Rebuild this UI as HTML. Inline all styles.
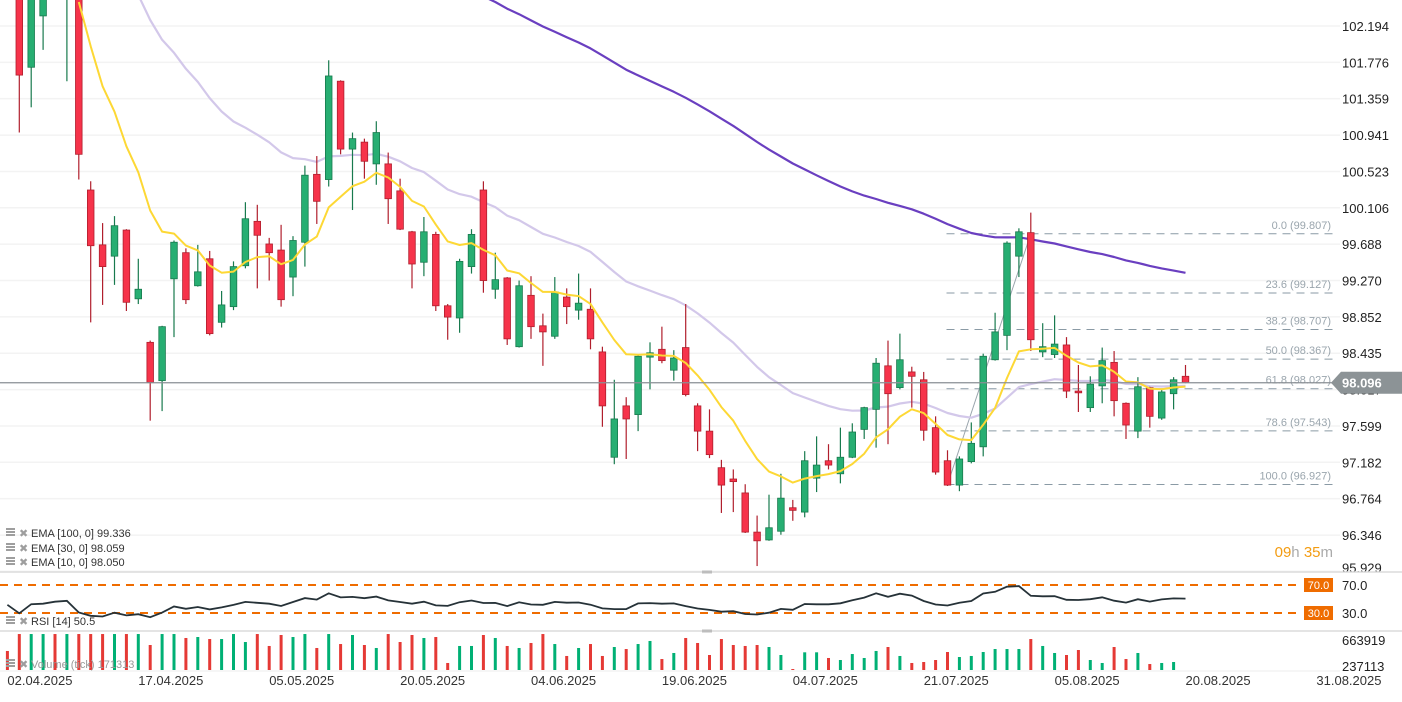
<!DOCTYPE html>
<html><head><meta charset="utf-8"><style>
body{margin:0;width:1402px;height:697px;overflow:hidden;background:#fff;font-family:"Liberation Sans",sans-serif}
svg text{font-family:"Liberation Sans","DejaVu Sans",sans-serif}
</style></head><body>
<svg id="chart" width="1402" height="697" viewBox="0 0 1402 697" xmlns="http://www.w3.org/2000/svg">
<defs><clipPath id="mainClip"><rect x="0" y="0" width="1340" height="571"/></clipPath>
<clipPath id="volClip"><rect x="0" y="633" width="1340" height="40"/></clipPath></defs>
</svg>
<script>
const opens=[103.30,102.61,101.72,102.31,103.18,102.55,102.55,100.31,99.68,99.55,
99.85,99.06,98.56,98.12,99.29,99.59,99.21,99.52,98.79,98.97,
99.44,99.95,99.69,99.62,99.31,99.71,100.49,100.43,101.56,100.78,
100.86,100.61,100.61,100.30,99.83,99.48,99.80,98.98,98.84,99.43,
100.31,99.17,99.30,98.51,99.10,98.75,98.63,99.08,98.93,98.94,
98.45,97.24,97.83,97.73,98.39,98.48,98.24,98.50,97.83,97.54,
97.12,96.99,96.83,96.38,96.29,96.39,96.66,96.61,97.00,97.20,
97.05,97.24,97.56,97.79,98.29,98.04,98.22,98.13,97.58,97.20,
96.92,97.19,97.36,98.36,98.64,99.55,99.82,98.45,98.42,98.53,
98.00,97.81,98.06,98.33,97.86,97.54,98.04,97.69,97.97,98.17];
const highs=[103.40,102.72,102.66,102.66,103.30,103.07,102.66,100.41,99.93,100.01,
99.86,99.52,98.58,98.75,99.73,99.64,99.68,99.61,99.15,99.49,
100.17,100.14,99.76,99.91,99.78,100.59,100.70,101.80,101.57,100.97,
100.90,101.10,100.74,100.44,99.84,100.00,99.83,99.00,99.52,99.86,
100.41,99.59,99.31,99.27,99.32,98.89,99.31,99.18,99.35,99.18,
98.51,98.13,97.93,98.41,98.56,98.74,98.47,99.00,97.86,97.79,
97.21,97.10,96.93,96.57,96.81,97.05,96.75,97.31,97.48,97.39,
97.58,97.63,97.82,98.38,98.58,98.66,98.28,98.22,97.71,97.32,
97.25,97.64,98.43,98.90,99.72,99.87,100.05,98.78,98.87,98.62,
98.30,98.17,98.50,98.46,97.87,98.16,98.05,98.02,98.16,98.30];
const lows=[102.80,100.97,101.26,101.92,102.72,101.56,100.43,98.79,98.99,99.22,
98.92,99.00,97.66,97.77,98.62,99.00,99.20,98.64,98.73,98.93,
99.41,99.18,99.27,98.97,99.09,99.43,99.92,100.35,100.72,100.08,
100.44,100.37,99.92,99.85,99.18,99.32,98.92,98.59,98.67,99.35,
99.13,99.06,98.53,98.50,98.60,98.29,98.60,98.77,98.82,98.48,
97.59,97.16,97.22,97.54,98.02,98.32,98.12,97.94,97.31,97.23,
96.60,96.61,96.37,95.99,96.28,96.35,96.51,96.55,96.84,97.10,
96.94,97.23,97.45,97.35,97.39,98.02,97.81,97.43,97.04,96.91,
96.85,97.17,97.25,98.35,98.47,99.31,98.46,98.39,98.38,97.92,
97.76,97.76,97.86,97.71,97.45,97.46,97.58,97.67,97.79,98.09];
const closes=[102.90,101.63,102.55,102.61,102.84,102.95,100.72,99.67,99.43,99.90,
99.02,99.17,98.10,98.74,99.71,99.05,99.37,98.66,98.99,99.43,
99.98,99.79,99.59,99.05,99.73,100.48,100.18,101.62,100.78,100.90,
100.64,100.97,100.21,99.86,99.46,99.83,98.98,98.85,99.49,99.80,
99.27,99.28,98.60,99.21,98.74,98.68,99.14,98.97,99.01,98.60,
97.83,97.68,97.68,98.40,98.44,98.35,98.38,97.96,97.54,97.27,
96.92,96.96,96.38,96.28,96.43,96.77,96.63,97.20,97.15,97.15,
97.24,97.53,97.81,98.32,97.97,98.36,98.17,97.55,97.07,96.92,
97.22,97.40,98.40,98.68,99.70,99.83,98.59,98.51,98.54,98.00,
97.98,98.08,98.35,97.89,97.61,98.05,97.71,97.99,98.13,98.10];
const volumes=[500,778,778,778,778,778,778,778,778,778,
778,778,598,778,778,713,729,696,696,778,
647,778,582,762,729,778,549,778,614,762,
598,549,778,647,762,713,729,303,582,582,
762,713,582,549,631,778,614,418,549,614,
418,565,532,614,664,368,467,713,631,434,
696,598,582,598,565,434,204,478,478,385,
352,450,385,500,565,418,303,319,352,483,
401,418,483,532,532,532,696,582,467,434,
516,352,303,565,368,467,286,303,319,171];
const priceTicks=["102.194","101.776","101.359","100.941","100.523","100.106","99.688","99.270","98.852","98.435","98.017","97.599","97.182","96.764","96.346","95.929"];
const fibPct=["0.0","23.6","38.2","50.0","61.8","78.6","100.0"];
const fibPrices=[99.807,99.127,98.707,98.367,98.027,97.543,96.927];
const fibStartIdx=79, fibEndIdx=86;
const dateLabels=["02.04.2025","17.04.2025","05.05.2025","20.05.2025","04.06.2025","19.06.2025","04.07.2025","21.07.2025","05.08.2025","20.08.2025","31.08.2025"];
const dateIdx=[0,11,22,33,44,55,66,77,88,99,110];
const emaSeeds10=[6,102.47], emaSeeds30=[11,102.55], emaSeeds100=[39,102.6];
const rsiSeedGain=0.10, rsiSeedLoss=0.14;
const lastPrice=98.096;

const svg=document.getElementById('chart');
const NS='http://www.w3.org/2000/svg';
function mk(tag,attrs,parent){const e=document.createElementNS(NS,tag);for(const k in attrs)e.setAttribute(k,attrs[k]);(parent||svg).appendChild(e);return e;}
const xOf=i=>7.4+11.9*i;
const yP=p=>26+(102.194-p)*87.05;
const yR=r=>585+(70-r)*0.7;
const yV=v=>670-(v-188)/16.4;

// grid
priceTicks.forEach((t,k)=>{const y=yP(parseFloat(t));
 const g=mk('line',{x1:0,x2:1340,y1:y,y2:y,stroke:'#f3f3f3','stroke-width':1.5});
 
 
 const ly=(k===priceTicks.length-1)?y+1:y+5;
 const tx=mk('text',{x:1342,y:ly,'font-size':13,fill:'#222'});tx.textContent=t;
 
 
});
const main=mk('g',{'clip-path':'url(#mainClip)'});



// fib
const fx1=xOf(fibStartIdx)-1, fx2=1333;
fibPrices.forEach((p,k)=>{const y=yP(p);
 const l=mk('line',{x1:fx1,x2:fx2,y1:y,y2:y,stroke:'#8a9aa5','stroke-width':1,'stroke-dasharray':'8,6'},main);
 
 
 const t=mk('text',{x:1331,y:y-5,'font-size':11,fill:'#9aa5ad','text-anchor':'end'},main);t.textContent=fibPct[k]+' ('+p.toFixed(3)+')';
 
 
});
const fl=mk('line',{x1:xOf(fibStartIdx),y1:yP(fibPrices[6]),x2:xOf(fibEndIdx),y2:yP(fibPrices[0]),stroke:'#9aa5ad','stroke-width':1},main);



// EMAs
function ema(period,seed){const a=2/(period+1);const out=[];let v=seed[1];for(let i=seed[0];i<closes.length;i++){if(i>seed[0])v=v+(closes[i]-v)*a;out.push([i,v]);}return out;}
function drawLine(pts,color,w){const d=pts.map((p,k)=>(k?'L':'M')+xOf(p[0]).toFixed(1)+' '+yP(p[1]).toFixed(1)).join(' ');
 return mk('path',{d:d,fill:'none',stroke:color,'stroke-width':w,'stroke-linejoin':'round'},main);}
const e30=drawLine(ema(30,emaSeeds30),'#d3c8ea',2.2);


const e100=drawLine(ema(100,emaSeeds100),'#6a3fc0',2.2);



// candles
for(let i=0;i<closes.length;i++){const up=closes[i]>=opens[i];const x=xOf(i);
 const body=up?'#27ae72':'#f6334a', edge=up?'#187a4e':'#b01f2d';
 const w=mk('line',{x1:x,x2:x,y1:yP(highs[i]),y2:yP(lows[i]),stroke:edge,'stroke-width':1.2},main);
 
 
 const yt=yP(Math.max(opens[i],closes[i])), yb=yP(Math.min(opens[i],closes[i]));
 const r=mk('rect',{x:x-3.3,y:yt,width:6.6,height:Math.max(1.5,yb-yt),fill:body,stroke:edge,'stroke-width':0.8},main);
 
 
}
const e10=drawLine(ema(10,emaSeeds10),'#fdd835',2);



// current price line
const cpy=yP(lastPrice);
const cp=mk('line',{x1:0,x2:1333,y1:cpy,y2:cpy,stroke:'#8a8f94','stroke-width':1.2});


const tag=mk('polygon',{points:`1331,${cpy} 1341,${cpy-11} 1402,${cpy-11} 1402,${cpy+11} 1341,${cpy+11}`,fill:'#8c9396'});


const tt=mk('text',{x:1342,y:cpy+5,'font-size':13,'font-weight':'bold',fill:'#fff'});tt.textContent=lastPrice.toFixed(3);



// countdown
const cd=mk('text',{x:1333,y:557,'font-size':15,'text-anchor':'end'});
cd.innerHTML='<tspan fill="#f39c12">09</tspan><tspan fill="#aaa">h </tspan><tspan fill="#f39c12">35</tspan><tspan fill="#aaa">m</tspan>';



// legends
function legend(y,text,name,col){const g=mk('g',{});
 for(let k=0;k<3;k++)mk('rect',{x:6,y:y-8+k*3,width:9,height:2,fill:'#9e9e9e'},g);
 const xx=mk('text',{x:19,y:y+1,'font-size':11,fill:'#9e9e9e'},g);xx.textContent='✖';
 const t=mk('text',{x:31,y:y+1,'font-size':11,fill:col||'#333'},g);t.textContent=text;
 
 
}
legend(536,'EMA [100,  0] 99.336','legend-ema-100');
legend(551,'EMA [30,  0] 98.059','legend-ema-30');
legend(565,'EMA [10,  0] 98.050','legend-ema-10');

// panes separators
[572,631].forEach(y=>{const s=mk('line',{x1:0,x2:1402,y1:y,y2:y,stroke:'#dcdcdc','stroke-width':1.5});
 
 
 const h=mk('rect',{x:702,y:y-1.5,width:10,height:3,fill:'#bdbdbd'});
 
 
});

// RSI
[70,30].forEach(v=>{const y=yR(v);
 const l=mk('line',{x1:0,x2:1302,y1:y,y2:y,stroke:'#ef6c00','stroke-width':2,'stroke-dasharray':'8,6'});
 
 
 const b=mk('rect',{x:1304,y:y-7,width:29,height:14,fill:'#ef6c00'});
 
 
 const t=mk('text',{x:1318.5,y:y+4,'font-size':11,fill:'#fff','text-anchor':'middle'});t.textContent=v.toFixed(1);
 
 
 const a=mk('text',{x:1342,y:y+5,'font-size':13,fill:'#222'});a.textContent=v.toFixed(1);
 
 
});
let ag=rsiSeedGain, al=rsiSeedLoss; const rsiPts=[];
for(let i=0;i<closes.length;i++){if(i>0){const ch=closes[i]-closes[i-1];ag=(ag*13+Math.max(ch,0))/14;al=(al*13+Math.max(-ch,0))/14;}rsiPts.push([i,100-100/(1+ag/al)]);}
const rsiPath=mk('path',{d:rsiPts.map((p,k)=>(k?'L':'M')+xOf(p[0]).toFixed(1)+' '+yR(p[1]).toFixed(1)).join(' '),fill:'none',stroke:'#263238','stroke-width':1.8});


legend(624,'RSI [14]  50.5','legend-rsi');

// Volume
const vg=mk('g',{'clip-path':'url(#volClip)'});


legend(667,'Volume  (tick)  171313','legend-volume','#999');
for(let i=0;i<volumes.length;i++){const up=closes[i]>=opens[i];const y=yV(volumes[i]);
 if(670-y<0.5)continue;
 const b=mk('rect',{x:xOf(i)-1.5,y:y,width:3,height:670-y,fill:up?'#00b074':'#e53935'},vg);
 
 
}
[["663919",645],["237113",671]].forEach(a=>{const t=mk('text',{x:1342,y:a[1],'font-size':13,fill:'#222'});t.textContent=a[0];
 
 });
const bl=mk('line',{x1:0,x2:1340,y1:671,y2:671,stroke:'#eeeeee','stroke-width':1});



// dates
dateLabels.forEach((d,k)=>{const t=mk('text',{x:xOf(dateIdx[k]),y:685,'font-size':13,fill:'#333'});t.textContent=d;
 
 });
</script>
</body></html>
